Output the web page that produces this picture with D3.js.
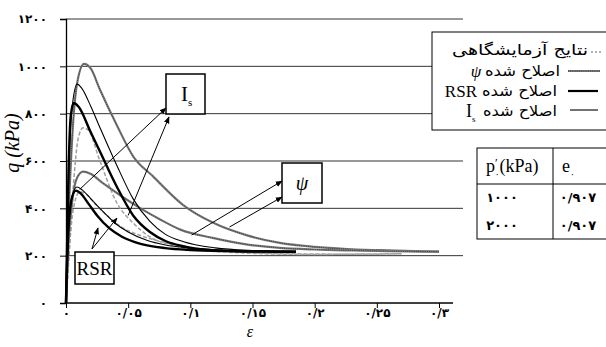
<!DOCTYPE html>
<html><head><meta charset="utf-8">
<script src="https://cdn.jsdelivr.net/npm/d3@7"></script>
<style>body{margin:0;background:#fff}svg{display:block}</style>
</head><body><svg id="c" width="606" height="347"></svg>
<script>
// ---- data ----
const xTicks = [0, 0.05, 0.1, 0.15, 0.2, 0.25, 0.3];
const xTickLabels = ["۰", "۰/۰۵", "۰/۱", "۰/۱۵", "۰/۲", "۰/۲۵", "۰/۳"];
const yTicks = [0, 200, 400, 600, 800, 1000, 1200];
const yTickLabels = ["۰", "۲۰۰", "۴۰۰", "۶۰۰", "۸۰۰", "۱۰۰۰", "۱۲۰۰"];

const exp2000 = [[0,0],[0.003,250],[0.006,500],[0.01,700],[0.0137,740],[0.018,730],[0.027,604],[0.041,422],[0.054,338],[0.0675,279],[0.085,245],[0.1,228],[0.13,215],[0.16,208],[0.2,205],[0.24,207],[0.27,208]];
const exp1000 = [[0,0],[0.003,250],[0.006,400],[0.011,470],[0.016,460],[0.025,410],[0.035,360],[0.045,320],[0.06,285],[0.08,255],[0.1,235],[0.13,220],[0.16,210],[0.2,207],[0.24,206],[0.27,208]];
const psi2000 = [[0,0],[0.002,350],[0.005,700],[0.009,930],[0.0145,1010],[0.02,990],[0.027,905],[0.041,750],[0.054,620],[0.07,535],[0.094,415],[0.118,340],[0.145,287],[0.172,254],[0.2,237],[0.226,228],[0.253,223],[0.28,219],[0.3,217]];
const psi1000 = [[0,0],[0.002,250],[0.005,430],[0.009,530],[0.0137,555],[0.02,545],[0.03,505],[0.045,450],[0.06,400],[0.075,355],[0.092,310],[0.118,275],[0.145,248],[0.172,233],[0.2,226],[0.23,222],[0.26,219],[0.3,217]];
const rsr2000 = [[0,0],[0.002,550],[0.004,800],[0.0064,845],[0.01,830],[0.02,720],[0.0273,640],[0.041,490],[0.054,370],[0.0675,300],[0.08,262],[0.094,240],[0.121,222],[0.15,218],[0.185,217]];
const rsr1000 = [[0,0],[0.002,320],[0.005,450],[0.008,475],[0.012,462],[0.018,420],[0.025,370],[0.035,315],[0.045,280],[0.06,250],[0.08,232],[0.1,224],[0.13,219],[0.16,217],[0.185,216]];
const is2000 = [[0,0],[0.002,500],[0.005,830],[0.009,925],[0.013,905],[0.02,830],[0.027,745],[0.041,580],[0.054,440],[0.0675,345],[0.08,290],[0.094,260],[0.12,233],[0.15,222],[0.185,218]];
const is1000 = [[0,0],[0.002,300],[0.005,450],[0.0088,490],[0.013,478],[0.02,440],[0.03,385],[0.04,335],[0.05,300],[0.065,265],[0.08,245],[0.1,232],[0.13,222],[0.16,219],[0.185,218]];

const legendLabels = ["نتایج آزمایشگاهی", "اصلاح شده", "اصلاح شده", "اصلاح شده"];
const legendSymbols = ["", "ψ", "RSR", "I"];
const tableHeader = ["p", "e"];
const tablePressure = ["۱۰۰۰", "۲۰۰۰"];
const tableVoid = ["۰/۹۰۷", "۰/۹۰۷"];

// ---- drawing ----
const svg = d3.select("#c");
const serif = "'Liberation Serif','Times New Roman',serif";
const fa = "'DejaVu Sans','Noto Sans',sans-serif";
const x = d3.scaleLinear().domain([0, 0.3]).range([66, 439]);
const y = d3.scaleLinear().domain([0, 1200]).range([303, 19]);
const plotRight = 463;

const defs = svg.append("defs");
defs.append("marker").attr("id","ah").attr("viewBox","0 0 10 10").attr("refX",9).attr("refY",5)
  .attr("markerWidth",7).attr("markerHeight",7).attr("orient","auto-start-reverse")
  .append("path").attr("d","M0,1 L10,5 L0,9 z").attr("fill","#000");

// gridlines
svg.append("g").selectAll("line").data(yTicks.filter(d=>d>0)).join("line")
  .attr("x1", 66).attr("x2", plotRight).attr("y1", d=>y(d)).attr("y2", d=>y(d))
  .attr("stroke", "#333").attr("stroke-width", 1);

// axes
const ya = svg.append("g").attr("transform","translate(66,0)")
  .call(d3.axisLeft(y).tickValues(yTicks).tickSize(6).tickFormat((d,i)=>yTickLabels[i]));
ya.select(".domain").attr("stroke","#000").attr("stroke-width",1.3);
ya.selectAll(".tick line").attr("stroke","#000");
ya.selectAll("text").attr("font-family", fa).attr("font-size", 12).attr("font-weight","bold")
  .attr("x", -19).attr("fill","#000");

const xa = svg.append("g").attr("transform","translate(0,303)")
  .call(d3.axisBottom(x).tickValues(xTicks).tickSizeInner(5).tickSizeOuter(0).tickFormat((d,i)=>xTickLabels[i]));
xa.select(".domain").attr("d", `M66,0H${plotRight-10}`).attr("stroke","#000").attr("stroke-width",1.5);
xa.selectAll(".tick line").attr("stroke","#000");
xa.selectAll("text").attr("font-family", fa).attr("font-size", 12).attr("font-weight","bold")
  .attr("y", 5).attr("fill","#000");

// curves
const line = d3.line().x(d=>x(d[0])).y(d=>y(d[1])).curve(d3.curveMonotoneX);
const g = svg.append("g");
function expLine(data){
  g.append("path").datum(data).attr("d", line).attr("fill","none")
    .attr("stroke","#a0a0a0").attr("stroke-width",1.5).attr("stroke-dasharray","4,2");
}
function psiLine(data){
  g.append("path").datum(data).attr("d", line).attr("fill","none")
    .attr("stroke","#7a7a7a").attr("stroke-width",2.2);
  g.append("path").datum(data).attr("d", line).attr("fill","none")
    .attr("stroke","#333").attr("stroke-width",0.9).attr("stroke-dasharray","1,1.2");
}
function solid(data, w){
  g.append("path").datum(data).attr("d", line).attr("fill","none")
    .attr("stroke","#000").attr("stroke-width",w);
}
expLine(exp2000); expLine(exp1000);
psiLine(psi2000); psiLine(psi1000);
solid(is2000, 1.1); solid(is1000, 1.1);
solid(rsr2000, 2.4); solid(rsr1000, 2.4);

// annotation boxes & arrows
function box(x0,y0,w,h){
  svg.append("rect").attr("x",x0).attr("y",y0).attr("width",w).attr("height",h)
    .attr("fill","#fff").attr("stroke","#000").attr("stroke-width",1.5);
}
function arrow(x1,y1,x2,y2){
  svg.append("line").attr("x1",x1).attr("y1",y1).attr("x2",x2).attr("y2",y2)
    .attr("stroke","#000").attr("stroke-width",1).attr("marker-end","url(#ah)");
}
// I_s
arrow(x(0.011), y(480), 166, 108);
arrow(x(0.05), y(370), 169, 117);
box(166,74,39,40);
const ist = svg.append("text").attr("x",181).attr("y",101).attr("font-family",serif).attr("font-size",21).text("I");
ist.append("tspan").attr("font-size",11).attr("dy",5).text("s");
// psi
arrow(x(0.101), y(287), 282, 181);
arrow(x(0.1315), y(321), 282, 197);
box(282,163,40,40);
svg.append("text").attr("x",302).attr("y",190).attr("text-anchor","middle").attr("font-family",serif)
  .attr("font-style","italic").attr("font-size",20).text("ψ");
// RSR
arrow(92,249,98,228);
arrow(92,249,117,218);
box(75,252,39,32);
svg.append("text").attr("x",94.5).attr("y",275).attr("text-anchor","middle").attr("font-family",serif)
  .attr("font-size",19).text("RSR");

// axis titles
svg.append("text").attr("transform","translate(19,143) rotate(-90)").attr("text-anchor","middle")
  .attr("font-family",serif).attr("font-style","italic").attr("font-size",20).text("q (kPa)");
svg.append("text").attr("x",250).attr("y",337).attr("text-anchor","middle")
  .attr("font-family",serif).attr("font-style","italic").attr("font-size",16).text("ε");

// legend
svg.append("rect").attr("x",432).attr("y",32).attr("width",200).attr("height",98)
  .attr("fill","#fff").attr("stroke","#000").attr("stroke-width",1);
const rowsY = [50, 71, 91, 111];
const lg = svg.append("g");
// samples
lg.append("line").attr("x1",591).attr("x2",603).attr("y1",52).attr("y2",52)
  .attr("stroke","#9a9a9a").attr("stroke-width",1.4).attr("stroke-dasharray","2,2");
lg.append("line").attr("x1",568).attr("x2",600).attr("y1",71).attr("y2",71)
  .attr("stroke","#7a7a7a").attr("stroke-width",2);
lg.append("line").attr("x1",568).attr("x2",600).attr("y1",71).attr("y2",71)
  .attr("stroke","#333").attr("stroke-width",0.9).attr("stroke-dasharray","1,1.2");
lg.append("line").attr("x1",568).attr("x2",598).attr("y1",91).attr("y2",91)
  .attr("stroke","#000").attr("stroke-width",2.2);
lg.append("line").attr("x1",570).attr("x2",598).attr("y1",110).attr("y2",110)
  .attr("stroke","#000").attr("stroke-width",1.1);
const rightEdges = [588, 560, 557, 557];
const lefts = [452, 485, 482, 483];
legendLabels.forEach((t,i)=>{
  lg.append("text").attr("x",rightEdges[i]).attr("y",rowsY[i]+5).attr("text-anchor","end")
    .attr("font-family",fa).attr("font-size",15)
    .attr("textLength", rightEdges[i]-lefts[i]).attr("lengthAdjust","spacingAndGlyphs").text(t);
});
lg.append("text").attr("x",476).attr("y",rowsY[1]+6).attr("font-family",serif).attr("font-style","italic")
  .attr("font-size",17).attr("text-anchor","middle").text(legendSymbols[1]);
lg.append("text").attr("x",477).attr("y",rowsY[2]+6).attr("font-family",serif)
  .attr("font-size",17).attr("text-anchor","end").text(legendSymbols[2]);
const ls = lg.append("text").attr("x",466).attr("y",rowsY[3]+6).attr("font-family",serif)
  .attr("font-size",18).text(legendSymbols[3]);
ls.append("tspan").attr("font-size",9).attr("dy",5).text("s");

// table
const tb = svg.append("g");
tb.append("rect").attr("x",477).attr("y",148).attr("width",160).attr("height",91)
  .attr("fill","#fff").attr("stroke","#000").attr("stroke-width",1);
tb.append("line").attr("x1",477).attr("x2",606).attr("y1",184).attr("y2",184).attr("stroke","#000");
tb.append("line").attr("x1",553).attr("x2",553).attr("y1",148).attr("y2",239).attr("stroke","#000");
const h1 = tb.append("text").attr("x",486).attr("y",172).attr("font-family",serif).attr("font-size",18).text(tableHeader[0]);
h1.append("tspan").attr("font-size",12).attr("dy",-5).text("′");
h1.append("tspan").attr("font-size",9).attr("dx",-3).attr("dy",10).attr("font-family",fa).text("۰");
h1.append("tspan").attr("font-size",18).attr("dy",-5).text("(kPa)");
const h2 = tb.append("text").attr("x",562).attr("y",172).attr("font-family",serif).attr("font-size",18).text(tableHeader[1]);
h2.append("tspan").attr("font-size",9).attr("dy",5).attr("font-family",fa).text("۰");
[202, 230].forEach((yy,i)=>{
  tb.append("text").attr("x",502).attr("y",yy).attr("text-anchor","middle").attr("font-family",fa)
    .attr("font-size",13).attr("font-weight","bold").text(tablePressure[i]);
  tb.append("text").attr("x",578).attr("y",yy).attr("text-anchor","middle").attr("font-family",fa)
    .attr("font-size",13).attr("font-weight","bold").text(tableVoid[i]);
});
</script></body></html>
